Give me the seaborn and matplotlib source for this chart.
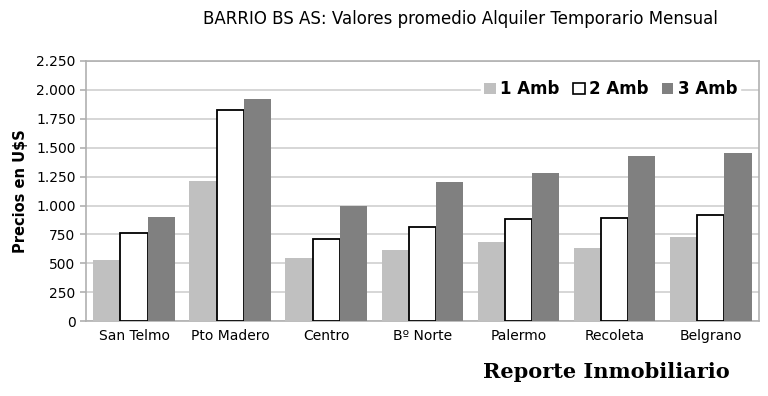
import matplotlib
matplotlib.use("Agg")
import matplotlib.pyplot as plt
from matplotlib.patches import Patch
from matplotlib.ticker import FuncFormatter, MultipleLocator
import numpy as np
import pandas as pd
import seaborn as sns

# datos
barrios = ["San Telmo", "Pto Madero", "Centro", "Bº Norte", "Palermo", "Recoleta", "Belgrano"]
amb_1 = [530, 1215, 550, 615, 685, 630, 725]
amb_2 = [760, 1825, 710, 815, 880, 895, 920]
amb_3 = [900, 1925, 995, 1200, 1285, 1430, 1455]
series = ["1 Amb", "2 Amb", "3 Amb"]

df = pd.DataFrame({
    "Barrio": barrios * 3,
    "Tipo": [series[0]] * 7 + [series[1]] * 7 + [series[2]] * 7,
    "Precio": amb_1 + amb_2 + amb_3,
})

sns.set_style("white")
plt.rcParams["font.family"] = ["DejaVu Sans"]
plt.rcParams["text.color"] = "black"
plt.rcParams["axes.labelcolor"] = "black"
plt.rcParams["xtick.color"] = "black"
plt.rcParams["ytick.color"] = "black"

fig = plt.figure(figsize=(7.68, 3.96), dpi=100)
ax = fig.add_axes([0.112, 0.189, 0.876, 0.657])

colores = {"1 Amb": "#c0c0c0", "2 Amb": "#ffffff", "3 Amb": "#808080"}
sns.barplot(data=df, x="Barrio", y="Precio", hue="Tipo", palette=colores,
            width=0.85, gap=0, ax=ax, zorder=3, errorbar=None, legend=False)

# borde negro solo para 2 Amb
for bar in ax.containers[1]:
    bar.set_edgecolor("black")
    bar.set_linewidth(1.3)
for c in (ax.containers[0], ax.containers[2]):
    for bar in c:
        bar.set_edgecolor("none")

ax.set_ylim(0, 2250)
ax.set_xlim(-0.5, 6.5)
ax.yaxis.set_major_locator(MultipleLocator(250))
ax.yaxis.set_major_formatter(FuncFormatter(lambda v, p: f"{int(v):,}".replace(",", ".")))
ax.grid(axis="y", color="#cfcfcf", linewidth=1.2, zorder=0)

for s in ax.spines.values():
    s.set_color("#b0b0b0")
    s.set_linewidth(1.2)

ax.set_xticks(np.arange(7))
ax.set_xticklabels(barrios, fontsize=10)
ax.set_xticks(np.arange(-0.5, 7, 1), minor=True)
ax.tick_params(axis="x", which="major", length=0, pad=6)
ax.tick_params(axis="x", which="minor", length=4, color="#b0b0b0", width=1.2)
ax.tick_params(axis="y", labelsize=10, length=4, color="#b0b0b0", width=1.2, left=True)

ax.set_xlabel("")
ax.set_ylabel("Precios en U$S", fontsize=10.5, fontweight="bold", labelpad=6)

handles = [Patch(facecolor=colores[s], edgecolor="black" if s == "2 Amb" else "none",
                 linewidth=1.2, label=s) for s in series]
leg = ax.legend(handles=handles, loc="upper right", bbox_to_anchor=(0.985, 0.97), ncol=3,
                frameon=True, framealpha=1, edgecolor="white", fancybox=False,
                prop={"weight": "bold", "size": 12}, handlelength=0.7, handleheight=0.7,
                handletextpad=0.25, columnspacing=0.8, borderpad=0.2)
leg.set_zorder(5)

fig.suptitle("BARRIO BS AS: Valores promedio Alquiler Temporario Mensual",
             x=0.6, y=0.975, fontsize=12)

fig.text(0.79, 0.06, "Reporte Inmobiliario", ha="center", va="center",
         fontsize=15, fontweight="bold", family="DejaVu Serif")

fig.savefig("out.png", dpi=100)
